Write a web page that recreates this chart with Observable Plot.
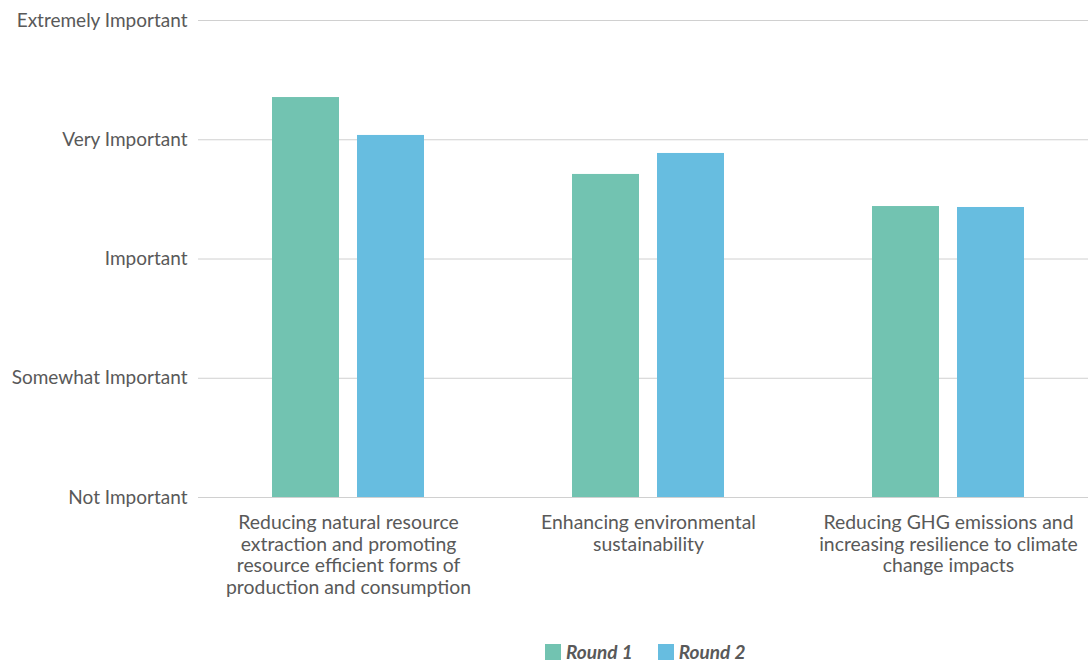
<!DOCTYPE html>
<html><head><meta charset="utf-8">
<script src="https://cdn.jsdelivr.net/npm/d3@7"></script>
<script src="https://cdn.jsdelivr.net/npm/@observablehq/plot@0.6"></script>
<style>
body{margin:0;background:#fff;font-family:Lato,sans-serif;}
#chart{position:relative;width:1088px;height:662px;}
#legend{position:absolute;top:640px;left:545px;display:flex;align-items:center;font-family:Lato,sans-serif;font-size:19px;font-weight:bold;font-style:italic;color:#595959;}
#legend .item{display:flex;align-items:center;margin-right:25px;}
#legend .sw{width:16px;height:16px;margin-right:5px;}
</style></head><body>
<div id="chart"><div id="plot"></div><div id="legend"></div></div>
<script>
const categories = [
  "Reducing natural resource\nextraction and promoting\nresource efficient forms of\nproduction and consumption",
  "Enhancing environmental\nsustainability",
  "Reducing GHG emissions and\nincreasing resilience to climate\nchange impacts"
];
const rounds = ["Round 1", "Round 2"];
const round1 = [4.354, 3.709, 3.440];
const round2 = [4.036, 3.885, 3.432];
const levels = [1, 2, 3, 4, 5];
const levelLabels = ["Not Important", "Somewhat Important", "Important", "Very Important", "Extremely Important"];
const colors = ["#72c3b1", "#67bde0"];

const data = categories.flatMap((c, i) => [
  {category: c, round: rounds[0], value: round1[i]},
  {category: c, round: rounds[1], value: round2[i]}
]);

const chart = Plot.plot({
  width: 1088,
  height: 632,
  marginLeft: 198,
  marginRight: 0,
  marginTop: 20,
  marginBottom: 135,
  style: {fontFamily: "Lato, sans-serif", fontSize: "19px", color: "#595959", background: "#fff"},
  x: {domain: categories, range: [198, 1098], padding: 0, axis: null},
  y: {domain: [1, 5], axis: null},
  color: {domain: rounds, range: colors},
  marks: [
    Plot.ruleY(levels, {stroke: "#d0d0d0", strokeWidth: 1}),
    Plot.barY(data.filter(d => d.round === rounds[0]), {x: "category", y1: 1, y2: "value", fill: "round", dx: -42.5, insetLeft: 116.5, insetRight: 116.5}),
    Plot.barY(data.filter(d => d.round === rounds[1]), {x: "category", y1: 1, y2: "value", fill: "round", dx: 42.5, insetLeft: 116.5, insetRight: 116.5}),
    Plot.axisY(levels, {label: null, tickSize: 0, tickPadding: 11, tickFormat: d => levelLabels[d - 1], fontSize: 19, fill: "#595959"}),
    Plot.axisX(categories, {label: null, tickSize: 0, tickPadding: 16, lineHeight: 1.12, fontSize: 19.4, fill: "#595959"})
  ]
});
document.getElementById("plot").appendChild(chart);

const legend = document.getElementById("legend");
rounds.forEach((r, i) => {
  const item = document.createElement("div");
  item.className = "item";
  const sw = document.createElement("span");
  sw.className = "sw";
  sw.style.background = colors[i];
  const t = document.createElement("span");
  t.textContent = r;
  item.appendChild(sw); item.appendChild(t);
  legend.appendChild(item);
});
</script>
</body></html>
